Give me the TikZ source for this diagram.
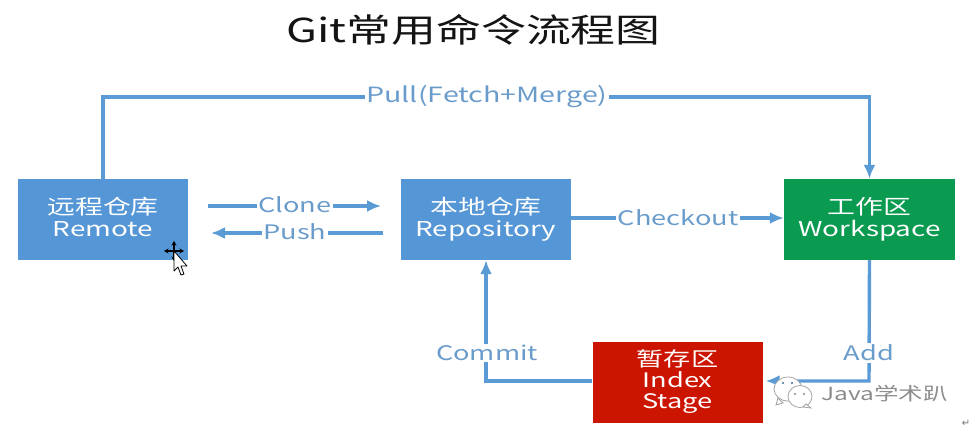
\documentclass[tikz,border=0pt]{standalone}
\usepackage{fontspec}
\setmainfont{Noto Sans CJK SC}
\newfontfamily\labfont[FakeStretch=1.36]{Noto Sans CJK SC}
\newfontfamily\symfont{DejaVu Sans}
\usetikzlibrary{arrows.meta,calc}
\definecolor{gblue}{HTML}{5B9BD5}
\definecolor{boxblue}{HTML}{5596D6}
\definecolor{lblue}{HTML}{6A9CCB}
\definecolor{gover}{HTML}{0A9A50}
\definecolor{gred}{HTML}{CC1500}
\definecolor{wmark}{HTML}{8C8C8C}
\tikzset{
  x=1pt,y=-1pt,
  box/.style={draw=none,minimum width=170pt,minimum height=81pt,inner sep=0pt,align=center,text=white,font=\labfont\fontsize{20.5}{22}\selectfont},
  conn/.style={draw=gblue,line width=3.4pt,-{Latex[length=14pt,width=12pt]}},
  lab/.style={fill=white,inner sep=1.5pt,text=lblue,font=\labfont\fontsize{20}{22}\selectfont},
}
\begin{document}
\begin{tikzpicture}
\useasboundingbox (0,0) rectangle (977,436);
\node[font=\labfont\fontsize{33}{40}\selectfont,text=black!92] (title) at (473.5,30) {Git常用命令流程图};
\node[box,fill=boxblue] (remote) at (103,219.5) {远程仓库\\Remote\vphantom{y}};
\node[box,fill=boxblue] (repo) at (486,219.5) {本地仓库\\Repository};
\node[box,fill=gover,minimum width=171pt] (work) at (869.5,219.5) {工作区\\Workspace};
\node[box,fill=gred,font=\labfont\fontsize{20}{21}\selectfont] (index) at (677.5,382) {暂存区\\Index\\Stage};
% connectors
\coordinate (pullA) at (remote.north |- 0,97);
\coordinate (pullB) at (work.north |- 0,97);
\draw[conn] (remote.north) -- (pullA) -- (pullB) -- (work.north);
\node[lab,font=\labfont\fontsize{21}{22}\selectfont] (pull) at (487,96.5) {Pull(Fetch+Merge)};
\coordinate (cl1) at (208,206);
\coordinate (cl2) at (381,206);
\draw[conn] (cl1) -- (cl2);
\node[lab] (clone) at (295,205) {Clone};
\coordinate (pu1) at (383,233);
\coordinate (pu2) at (211,233);
\draw[conn] (pu1) -- (pu2);
\node[lab] (push) at (295,232) {Push};
\draw[conn] (repo.east |- 0,218) -- (work.west |- 0,218);
\node[lab] (checkout) at (678,218) {Checkout};
\coordinate (addA) at (869,381);
\draw[conn,shorten >=3pt] (work.south) -- (addA) -- (index.east |- addA);
\node[lab] (add) at (869,353) {Add};
\coordinate (comA) at (486,381);
\draw[conn] (index.west |- comA) -- (comA) -- (repo.south);
\node[lab] (commit) at (487,353) {Commit};
% cursor
\begin{scope}[shift={(174,254)}]
\draw[black,line width=1.3pt,{Stealth[length=4.5pt,width=5pt]}-{Stealth[length=4.5pt,width=5pt]}] (-10,-3) -- (10,-3);
\draw[black,line width=1.3pt,{Stealth[length=4.5pt,width=5pt]}-{Stealth[length=4.5pt,width=5pt]}] (0,-13) -- (0,7);
\fill[white,draw=black,line width=.8pt,line join=round] (0,-3) -- (0,17) -- (4,13) -- (7,21) -- (10,20) -- (7,12) -- (13,12) -- cycle;
\end{scope}
% watermark
\begin{scope}[draw=wmark!80,fill=white,line width=.8pt]
\filldraw (788,389) ellipse [x radius=14pt,y radius=12pt];
\filldraw (778,398) -- (783,403) -- (776,405) -- cycle;
\filldraw (800,396.5) ellipse [x radius=12pt,y radius=11pt];
\filldraw (806,404) -- (811,408) -- (803,407) -- cycle;
\fill[wmark] (795,394) circle (1.1pt) (804,394) circle (1.1pt);
\fill[gblue!70!black] (783,383) circle (1.2pt) (792,383) circle (1.2pt);
\end{scope}
\node[text=wmark,font=\labfont\fontsize{18}{22}\selectfont,anchor=west,inner sep=0pt] (wm) at (821,394) {Java学术趴};
\node[text=black!55,font=\symfont\fontsize{10}{10}\selectfont,inner sep=0pt] (ret) at (966,423) {↵};
\end{tikzpicture}
\end{document}
